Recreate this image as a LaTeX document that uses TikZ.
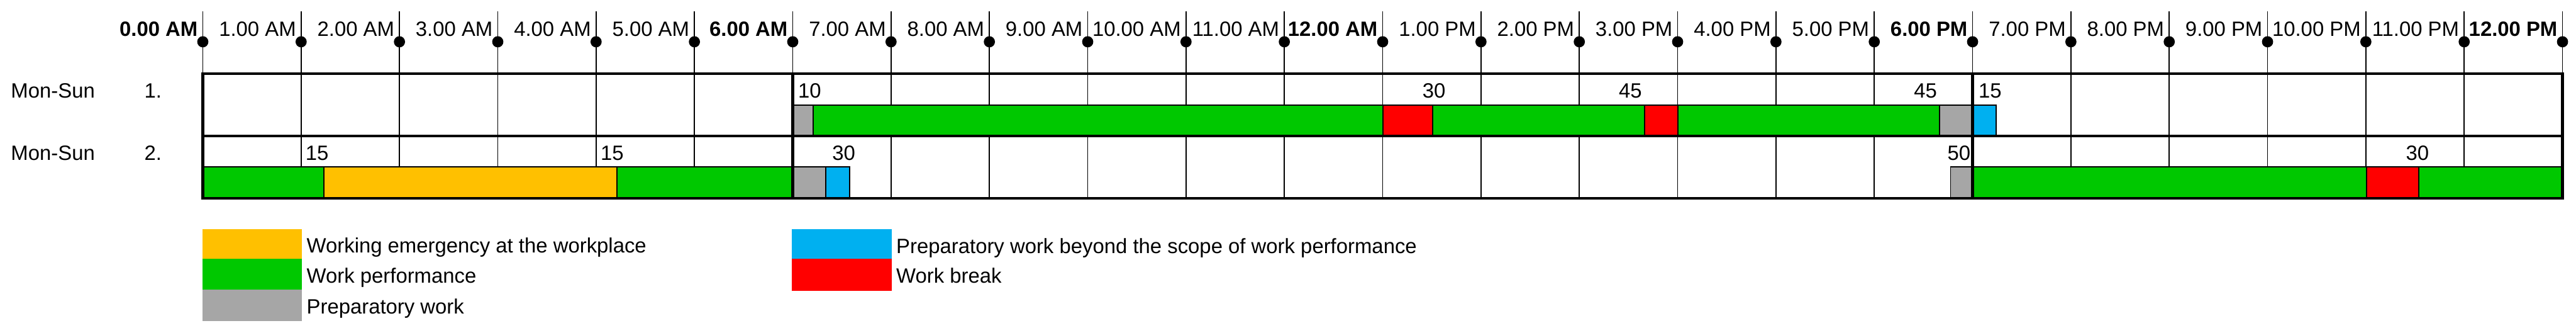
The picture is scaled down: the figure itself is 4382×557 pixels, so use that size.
\documentclass[tikz,border=0pt]{standalone}
\usepackage{fontspec}
\setmainfont{Liberation Sans}
\definecolor{wgreen}{RGB}{0,200,0}
\definecolor{worange}{RGB}{255,192,0}
\definecolor{wblue}{RGB}{0,176,240}
\definecolor{wred}{RGB}{255,0,0}
\definecolor{wgray}{RGB}{166,166,166}
\begin{document}
\begin{tikzpicture}[x=0.01cm,y=-0.01cm,
  txt/.style={inner sep=0pt,font=\fontsize{10}{12}\selectfont},
  btxt/.style={inner sep=0pt,font=\fontsize{10}{12}\selectfont\bfseries},
  thinline/.style={line width=0.55pt},
  thickline/.style={line width=1.3pt},
  bar/.style={draw=black,line width=0.6pt},
  swatch/.style={draw=none}]
\useasboundingbox (0,0) rectangle (4382,557);
% thin hour lines
\foreach \h in {0,...,24}
  \draw[thinline] ({345+167.25*\h},19) -- ({345+167.25*\h},337);
% row 1 bars
\foreach \a/\b/\c in {1347/1383/wgray,1383/2352/wgreen,2352/2437/wred,2437/2798/wgreen,2798/2854/wred,2854/3299/wgreen,3299/3354/wgray,3354/3396/wblue}
  \draw[bar,fill=\c] (\a,179) rectangle (\b,231);
% row 2 bars
\foreach \a/\b/\c in {345/551/wgreen,551/1049/worange,1049/1347/wgreen,1347/1405/wgray,1405/1445/wblue,3318/3355/wgray,3355/4026/wgreen,4026/4114/wred,4114/4359/wgreen}
  \draw[bar,fill=\c] (\a,283) rectangle (\b,337);
% thick table lines
\draw[thickline] (345,125) rectangle (4359,337);
\draw[thickline] (345,231) -- (4359,231);
\foreach \h in {6,18}
  \draw[thickline] ({345+167.25*\h},125) -- ({345+167.25*\h},337);
% dots
\foreach \h in {0,...,24}
  \fill ({345+167.25*\h},71) circle[radius=0.095cm];
% time labels
\foreach \h/\t in {1/1.00 AM,2/2.00 AM,3/3.00 AM,4/4.00 AM,5/5.00 AM,7/7.00 AM,8/8.00 AM,9/9.00 AM,10/10.00 AM,11/11.00 AM,13/1.00 PM,14/2.00 PM,15/3.00 PM,16/4.00 PM,17/5.00 PM,19/7.00 PM,20/8.00 PM,21/9.00 PM,22/10.00 PM,23/11.00 PM}
  \node[txt,anchor=base east] (tl\h) at ({345+167.25*\h-8},62) {\t};
\foreach \h/\t in {0/0.00 AM,6/6.00 AM,12/12.00 AM,18/6.00 PM,24/12.00 PM}
  \node[btxt,anchor=base east] (tl\h) at ({345+167.25*\h-8},62) {\t};
% row labels
\node[txt,anchor=base west] (day1) at (18,166) {Mon-Sun};
\node[txt,anchor=base west] (num1) at (245,166) {1.};
\node[txt,anchor=base west] (day2) at (18,272) {Mon-Sun};
\node[txt,anchor=base west] (num2) at (245,272) {2.};
% bar labels row 1
\node[txt,anchor=base west] (a1) at (1357,166) {10};
\node[txt,anchor=base west] (a2) at (2419,166) {30};
\node[txt,anchor=base west] (a3) at (2753,166) {45};
\node[txt,anchor=base west] (a4) at (3255,166) {45};
\node[txt,anchor=base west] (a5) at (3365,166) {15};
% bar labels row 2
\node[txt,anchor=base west] (b1) at (519,272) {15};
\node[txt,anchor=base west] (b2) at (1021,272) {15};
\node[txt,anchor=base west] (b3) at (1415,272) {30};
\node[txt,anchor=base west] (b4) at (3312,272) {50};
\node[txt,anchor=base west] (b5) at (4092,272) {30};
% legend
\fill[worange] (344,389) rectangle (514,440);
\fill[wgreen] (344,440) rectangle (514,492);
\fill[wgray] (344,492) rectangle (514,546);
\fill[wblue] (1347,389) rectangle (1517,440);
\fill[wred] (1347,440) rectangle (1517,494);
\node[txt,anchor=base west] (l1) at (521,430) {Working emergency at the workplace};
\node[txt,anchor=base west] (l2) at (521,481) {Work performance};
\node[txt,anchor=base west] (l3) at (521,533) {Preparatory work};
\node[txt,anchor=base west] (l4) at (1524,431) {Preparatory work beyond the scope of work performance};
\node[txt,anchor=base west] (l5) at (1524,481) {Work break};
\end{tikzpicture}
\end{document}
